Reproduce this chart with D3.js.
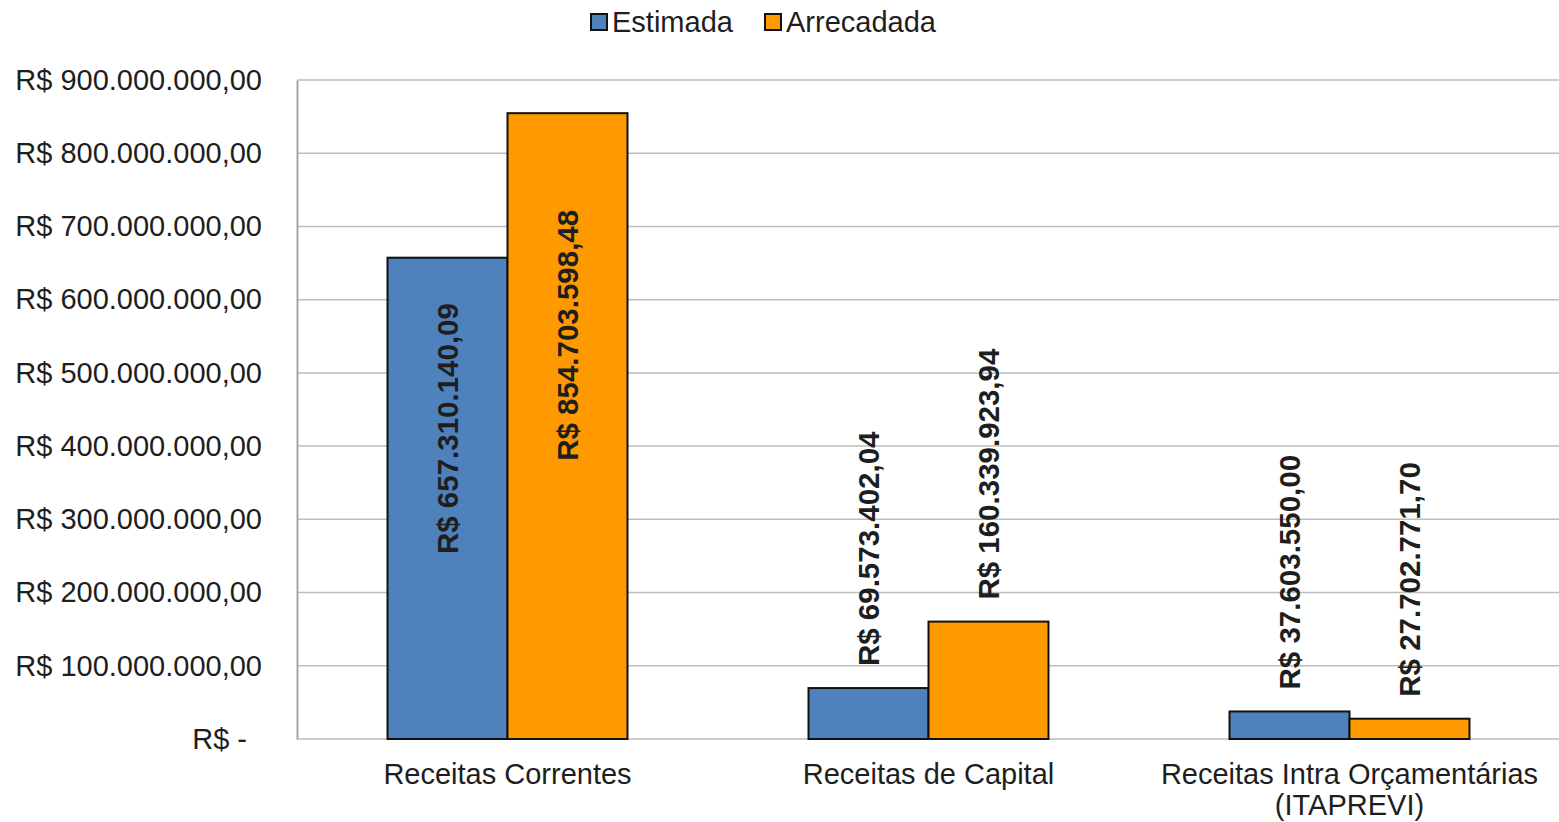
<!DOCTYPE html>
<html>
<head>
<meta charset="utf-8">
<script src="https://cdn.jsdelivr.net/npm/d3@7"></script>
<style>
  body { margin: 0; background: #fff; }
  text { font-family: "Liberation Sans", Arial, sans-serif; fill: #1e1e1e; }
</style>
</head>
<body>
<div id="chart"></div>
<script>
// categories and series
const categories = ['Receitas Correntes', 'Receitas de Capital', 'Receitas Intra Orçamentárias (ITAPREVI)']
const categoryLines = [['Receitas Correntes'], ['Receitas de Capital'], ['Receitas Intra Orçamentárias', '(ITAPREVI)']]
const seriesNames = ['Estimada', 'Arrecadada']
const estimada = [657310140.09, 69573402.04, 37603550.00]
const arrecadada = [854703598.48, 160339923.94, 27702771.70]
const yTicks = [0, 100e6, 200e6, 300e6, 400e6, 500e6, 600e6, 700e6, 800e6, 900e6]
const colors = ['#4f81bd', '#ff9900']

const width = 1559, height = 822
const margin = {top: 80, right: 0, bottom: 83, left: 297}

const svg = d3.select('#chart').append('svg')
  .attr('width', width)
  .attr('height', height)

// pt-BR money format: R$ 1.234.567,89
const money = d => {
  let s = d.toFixed(2).split('.')
  let int = s[0].replace(/\B(?=(\d{3})+(?!\d))/g, '.')
  return 'R$ ' + int + ',' + s[1]
}

const x0 = d3.scaleBand()
  .domain(categories)
  .range([margin.left, width - margin.right + 1])
  .paddingInner(0.43)
  .paddingOuter(0.215)

const x1 = d3.scaleBand()
  .domain(seriesNames)
  .range([0, x0.bandwidth()])

const y = d3.scaleLinear()
  .domain([0, 900e6])
  .range([height - margin.bottom, margin.top])

// gridlines
svg.append('g')
  .selectAll('line')
  .data(yTicks)
  .join('line')
  .attr('x1', margin.left)
  .attr('x2', width)
  .attr('y1', d => y(d))
  .attr('y2', d => y(d))
  .attr('stroke', '#bdbdbd')
  .attr('stroke-width', 1.5)

// y axis
const yAxis = svg.append('g')
  .attr('transform', `translate(${margin.left},0)`)
  .call(d3.axisLeft(y).tickValues(yTicks).tickSize(0).tickPadding(35)
    .tickFormat(d => d === 0 ? 'R$ -' : money(d)))
yAxis.select('.domain').attr('stroke', '#a6a6a6').attr('stroke-width', 2)
yAxis.selectAll('text')
  .style('font-size', '29px')
  .attr('fill', '#1e1e1e')
  .attr('dx', d => d === 0 ? -15 : 0)

// bars
const rows = categories.map((c, i) => ({cat: c, vals: [estimada[i], arrecadada[i]]}))

const groups = svg.append('g')
  .selectAll('g')
  .data(rows)
  .join('g')
  .attr('transform', d => `translate(${x0(d.cat)},0)`)

groups.selectAll('rect')
  .data(d => d.vals.map((v, j) => ({name: seriesNames[j], v: v, j: j})))
  .join('rect')
  .attr('x', d => x1(d.name))
  .attr('y', d => y(d.v))
  .attr('width', x1.bandwidth())
  .attr('height', d => y(0) - y(d.v))
  .attr('fill', d => colors[d.j])
  .attr('stroke', '#111')
  .attr('stroke-width', 2)

// value labels (rotated)
groups.selectAll('text.val')
  .data(d => d.vals.map((v, j) => ({name: seriesNames[j], v: v})))
  .join('text')
  .attr('class', 'val')
  .attr('transform', d => {
    let cx = x1(d.name) + x1.bandwidth() / 2
    let cy = d.v > 400e6 ? y(d.v * 0.645) : y(d.v) - 22
    return `translate(${cx},${cy}) rotate(-90)`
  })
  .attr('text-anchor', d => d.v > 400e6 ? 'middle' : 'start')
  .attr('dy', '0.35em')
  .style('font-size', '29.5px')
  .style('font-weight', 'bold')
  .text(d => money(d.v))

// category labels
svg.append('g')
  .selectAll('text')
  .data(categories)
  .join('text')
  .attr('x', d => x0(d) + x0.bandwidth() / 2)
  .attr('y', 784)
  .attr('text-anchor', 'middle')
  .style('font-size', '29px')
  .each(function(d, i) {
    d3.select(this).selectAll('tspan')
      .data(categoryLines[i])
      .join('tspan')
      .attr('x', x0(d) + x0.bandwidth() / 2)
      .attr('dy', (t, k) => k === 0 ? 0 : 31)
      .text(t => t)
  })

// legend
const legend = svg.append('g')
const legendX = [591, 765]
seriesNames.forEach((name, i) => {
  legend.append('rect')
    .attr('x', legendX[i])
    .attr('y', 14)
    .attr('width', 16)
    .attr('height', 16)
    .attr('fill', colors[i])
    .attr('stroke', '#111')
    .attr('stroke-width', 2)
  legend.append('text')
    .attr('x', legendX[i] + 21)
    .attr('y', 32)
    .style('font-size', '29px')
    .text(name)
})
</script>
</body>
</html>
